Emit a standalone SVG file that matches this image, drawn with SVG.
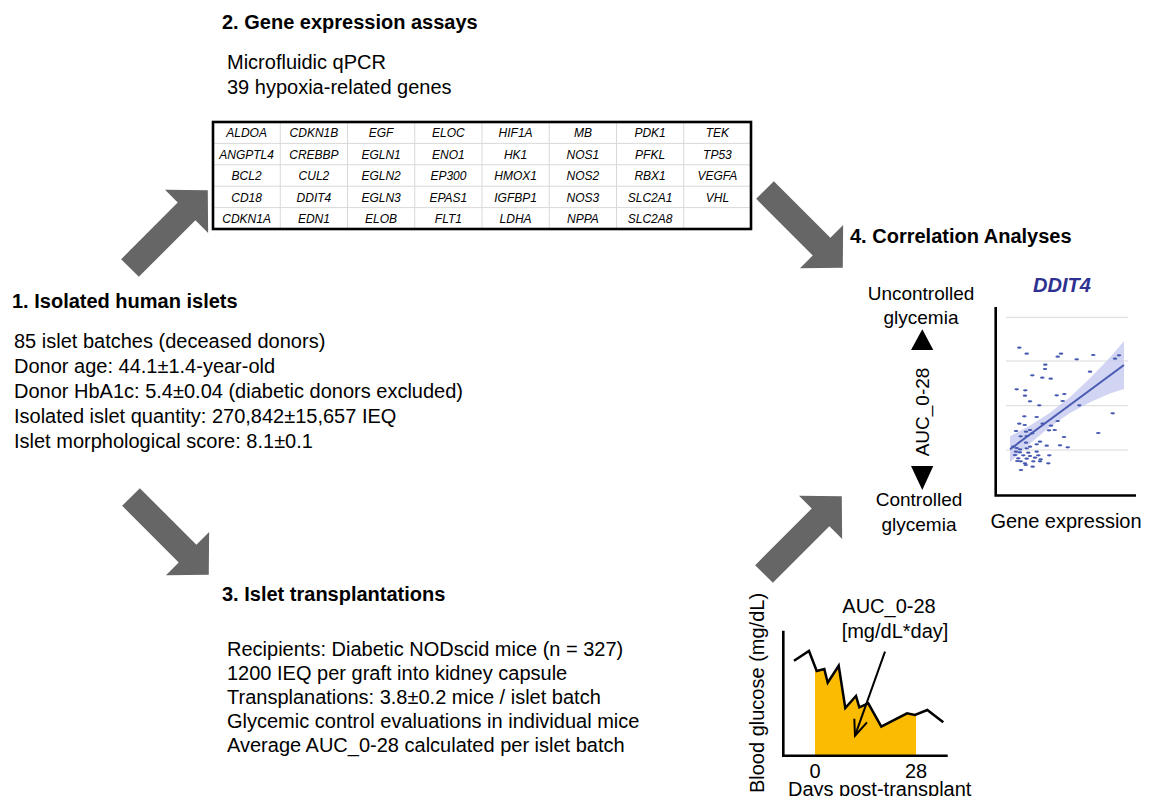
<svg xmlns="http://www.w3.org/2000/svg" xmlns:xlink="http://www.w3.org/1999/xlink" width="1159" height="796" viewBox="0 0 1159 796">
<style>
text{font-family:"Liberation Sans",Arial,sans-serif;fill:#000}
.h{font-size:20px;font-weight:bold}
.b{font-size:20px}
.r{font-size:19px}
.g{font-size:12px;font-style:italic;text-anchor:middle}
.c{text-anchor:middle}
.grid{stroke:#d9d9d9;stroke-width:1}
.big{fill:#666666}
.ax{stroke:#000;stroke-width:2.6;fill:none}
.pt{fill:#4458b0}
</style>
<defs>
<path id="bigarrow" d="M0,-12.5 L80,-12.5 L80,-30.5 L110,0 L80,30.5 L80,12.5 L0,12.5 Z"/>
<ellipse id="d" rx="2.3" ry="1.1"/>
</defs>

<g id="connectors">
<use href="#bigarrow" class="big" transform="translate(130,268) rotate(-45)"/>
<use href="#bigarrow" class="big" transform="translate(765,190) rotate(45)"/>
<use href="#bigarrow" class="big" transform="translate(131,497) rotate(45)"/>
<use href="#bigarrow" class="big" transform="translate(764,574) rotate(-45)"/>
</g>

<g id="node-islets">
<text class="h" x="12" y="308">1. Isolated human islets</text>
<text class="b" x="14" y="348">85 islet batches (deceased donors)</text>
<text class="b" x="14" y="373">Donor age: 44.1±1.4-year-old</text>
<text class="b" x="14" y="398">Donor HbA1c: 5.4±0.04 (diabetic donors excluded)</text>
<text class="b" x="14" y="423">Isolated islet quantity: 270,842±15,657 IEQ</text>
<text class="b" x="14" y="448">Islet morphological score: 8.1±0.1</text>
</g>

<g id="node-gene-expression">
<text class="h" x="222" y="29">2. Gene expression assays</text>
<text class="b" x="227" y="69">Microfluidic qPCR</text>
<text class="b" x="227" y="94">39 hypoxia-related genes</text>
<g id="gene-table">
<rect x="213" y="122" width="538" height="107" fill="#fff"/>
<g class="grid">
<line x1="213" y1="143.4" x2="751" y2="143.4"/>
<line x1="213" y1="164.8" x2="751" y2="164.8"/>
<line x1="213" y1="186.2" x2="751" y2="186.2"/>
<line x1="213" y1="207.6" x2="751" y2="207.6"/>
<line x1="280.25" y1="122" x2="280.25" y2="229"/>
<line x1="347.5" y1="122" x2="347.5" y2="229"/>
<line x1="414.75" y1="122" x2="414.75" y2="229"/>
<line x1="482" y1="122" x2="482" y2="229"/>
<line x1="549.25" y1="122" x2="549.25" y2="229"/>
<line x1="616.5" y1="122" x2="616.5" y2="229"/>
<line x1="683.75" y1="122" x2="683.75" y2="229"/>
</g>
<rect x="213" y="122" width="538" height="107" fill="none" stroke="#000" stroke-width="2.6"/>
<g class="gt">
<text class="g" x="246.6" y="137.3">ALDOA</text><text class="g" x="313.9" y="137.3">CDKN1B</text><text class="g" x="381.1" y="137.3">EGF</text><text class="g" x="448.4" y="137.3">ELOC</text><text class="g" x="515.6" y="137.3">HIF1A</text><text class="g" x="582.9" y="137.3">MB</text><text class="g" x="650.1" y="137.3">PDK1</text><text class="g" x="717.4" y="137.3">TEK</text>
<text class="g" x="246.6" y="158.7">ANGPTL4</text><text class="g" x="313.9" y="158.7">CREBBP</text><text class="g" x="381.1" y="158.7">EGLN1</text><text class="g" x="448.4" y="158.7">ENO1</text><text class="g" x="515.6" y="158.7">HK1</text><text class="g" x="582.9" y="158.7">NOS1</text><text class="g" x="650.1" y="158.7">PFKL</text><text class="g" x="717.4" y="158.7">TP53</text>
<text class="g" x="246.6" y="180.1">BCL2</text><text class="g" x="313.9" y="180.1">CUL2</text><text class="g" x="381.1" y="180.1">EGLN2</text><text class="g" x="448.4" y="180.1">EP300</text><text class="g" x="515.6" y="180.1">HMOX1</text><text class="g" x="582.9" y="180.1">NOS2</text><text class="g" x="650.1" y="180.1">RBX1</text><text class="g" x="717.4" y="180.1">VEGFA</text>
<text class="g" x="246.6" y="201.5">CD18</text><text class="g" x="313.9" y="201.5">DDIT4</text><text class="g" x="381.1" y="201.5">EGLN3</text><text class="g" x="448.4" y="201.5">EPAS1</text><text class="g" x="515.6" y="201.5">IGFBP1</text><text class="g" x="582.9" y="201.5">NOS3</text><text class="g" x="650.1" y="201.5">SLC2A1</text><text class="g" x="717.4" y="201.5">VHL</text>
<text class="g" x="246.6" y="222.9">CDKN1A</text><text class="g" x="313.9" y="222.9">EDN1</text><text class="g" x="381.1" y="222.9">ELOB</text><text class="g" x="448.4" y="222.9">FLT1</text><text class="g" x="515.6" y="222.9">LDHA</text><text class="g" x="582.9" y="222.9">NPPA</text><text class="g" x="650.1" y="222.9">SLC2A8</text>
</g>
</g>
</g>

<g id="node-transplantations">
<text class="h" x="222" y="601">3. Islet transplantations</text>
<text class="b" x="227" y="656">Recipients: Diabetic NODscid mice (n = 327)</text>
<text class="b" x="227" y="680">1200 IEQ per graft into kidney capsule</text>
<text class="b" x="227" y="704">Transplanations: 3.8±0.2 mice / islet batch</text>
<text class="b" x="227" y="728">Glycemic control evaluations in individual mice</text>
<text class="b" x="227" y="752">Average AUC_0-28 calculated per islet batch</text>
</g>

<g id="node-glucose-plot">
<path d="M815,669 L816.7,671 L824.3,669 L827.7,682.7 L838.7,665.7 L845.3,708 L856,696 L859.3,707.3 L868.3,703.3 L881.3,726.7 L907,713.3 L915,715 L916,714.6 L916,755.5 L815,755.5 Z" fill="#fbbb00"/>
<polyline points="794,660.7 809,651 816.7,671 824.3,669 827.7,682.7 838.7,665.7 845.3,708 856,696 859.3,707.3 868.3,703.3 881.3,726.7 907,713.3 915,715 927.3,710 943.3,722.3" fill="none" stroke="#000" stroke-width="2.5" stroke-linejoin="miter"/>
<polyline class="ax" points="783.3,630.7 783.3,755.7 947.7,755.7"/>
<line x1="885" y1="651.7" x2="855" y2="735.7" stroke="#000" stroke-width="2"/>
<polyline points="854.3,718.7 855,735.7 867,722.3" fill="none" stroke="#000" stroke-width="2"/>
<text class="b c" x="889" y="613">AUC_0-28</text>
<text class="b c" x="895" y="638">[mg/dL*day]</text>
<text class="b c" x="815" y="778">0</text>
<text class="b c" x="916" y="778">28</text>
<text class="b" x="788" y="796">Days post-transplant</text>
<text class="b c" transform="translate(764,693) rotate(-90)">Blood glucose (mg/dL)</text>
</g>

<g id="node-correlation">
<text class="h" x="850" y="243">4. Correlation Analyses</text>
<text class="r c" x="921" y="300">Uncontrolled</text>
<text class="r c" x="921" y="324">glycemia</text>
<polygon points="922.3,329.3 911,350 933.3,350" fill="#000"/>
<text class="r c" transform="translate(929,412) rotate(-90)">AUC_0-28</text>
<polygon points="911,466 933.3,466 922.3,490" fill="#000"/>
<text class="r c" x="919" y="506">Controlled</text>
<text class="r c" x="919" y="531">glycemia</text>
</g>

<g id="node-scatter">
<text x="1062" y="292" class="c" style="font-size:20px;font-weight:bold;font-style:italic;fill:#2e3192">DDIT4</text>
<g class="grid">
<line x1="1006" y1="317.3" x2="1128" y2="317.3"/>
<line x1="1006" y1="361" x2="1128" y2="361"/>
<line x1="1006" y1="405.7" x2="1128" y2="405.7"/>
<line x1="1006" y1="450" x2="1128" y2="450"/>
</g>
<polygon points="1010,436.3 1030,425.5 1050,412.7 1070,397 1090,378.2 1110,357.4 1124,341.1 1124,389.1 1110,393.4 1090,402.2 1070,413 1050,426.7 1030,443.5 1010,462.3" fill="#c9ccf0" opacity="0.85"/>
<g class="pt">
<use href="#d" x="1019.3" y="347.7"/><use href="#d" x="1026.7" y="353.7"/><use href="#d" x="1061" y="353.7"/><use href="#d" x="1057.7" y="356.7"/><use href="#d" x="1076.7" y="359.3"/><use href="#d" x="1093.3" y="355"/><use href="#d" x="1119" y="355.3"/><use href="#d" x="1115" y="358.7"/><use href="#d" x="1045.3" y="364.7"/><use href="#d" x="1045" y="369"/><use href="#d" x="1090" y="371.7"/><use href="#d" x="1032.3" y="375.3"/><use href="#d" x="1042.3" y="377.7"/><use href="#d" x="1050.7" y="378.7"/><use href="#d" x="1016.7" y="389.3"/><use href="#d" x="1025.3" y="390.3"/><use href="#d" x="1025" y="395.7"/><use href="#d" x="1056.7" y="395.3"/><use href="#d" x="1064.3" y="394"/><use href="#d" x="1030" y="401.3"/><use href="#d" x="1062.7" y="401"/><use href="#d" x="1039.3" y="405.3"/><use href="#d" x="1079.3" y="405.3"/><use href="#d" x="1112.7" y="413.3"/><use href="#d" x="1024.3" y="416.3"/><use href="#d" x="1036.7" y="417"/><use href="#d" x="1057.7" y="421"/><use href="#d" x="1019.3" y="423.7"/><use href="#d" x="1024.7" y="425"/><use href="#d" x="1042.7" y="423.7"/><use href="#d" x="1051" y="425.7"/><use href="#d" x="1016" y="431"/><use href="#d" x="1026" y="431.7"/><use href="#d" x="1030" y="430"/><use href="#d" x="1032.3" y="433.3"/><use href="#d" x="1049" y="430.3"/><use href="#d" x="1054.7" y="430"/><use href="#d" x="1098.3" y="433"/><use href="#d" x="1020.7" y="436.3"/><use href="#d" x="1026.7" y="436"/><use href="#d" x="1064" y="437"/><use href="#d" x="1040" y="441.7"/><use href="#d" x="1026" y="442.7"/><use href="#d" x="1036.7" y="444.3"/><use href="#d" x="1046.7" y="445.7"/><use href="#d" x="1060" y="445.3"/><use href="#d" x="1067.7" y="447.3"/><use href="#d" x="1013.3" y="446.7"/><use href="#d" x="1016.7" y="448"/><use href="#d" x="1020" y="449.3"/><use href="#d" x="1026.7" y="448.3"/><use href="#d" x="1030" y="446.7"/><use href="#d" x="1016" y="451.7"/><use href="#d" x="1020" y="452.3"/><use href="#d" x="1028.3" y="452.7"/><use href="#d" x="1036.7" y="451.7"/><use href="#d" x="1015" y="455"/><use href="#d" x="1023.3" y="455.3"/><use href="#d" x="1030" y="456"/><use href="#d" x="1038.3" y="455.3"/><use href="#d" x="1049.3" y="455.3"/><use href="#d" x="1018.3" y="458.3"/><use href="#d" x="1026.7" y="458.7"/><use href="#d" x="1035" y="457.7"/><use href="#d" x="1040.7" y="459.3"/><use href="#d" x="1017.3" y="461"/><use href="#d" x="1020.7" y="461.3"/><use href="#d" x="1025" y="463.3"/><use href="#d" x="1033.3" y="461.3"/><use href="#d" x="1040" y="461.3"/><use href="#d" x="1048.3" y="463.3"/><use href="#d" x="1025.7" y="465"/><use href="#d" x="1032.7" y="466.7"/><use href="#d" x="1021" y="470"/>
</g>
<line x1="1010" y1="449.3" x2="1124" y2="365" stroke="#4a5cb2" stroke-width="2"/>
<polyline class="ax" points="995.7,307 995.7,495.5 1136,495.5" stroke-width="3"/>
<text class="b c" x="1066" y="528">Gene expression</text>
</g>
</svg>
